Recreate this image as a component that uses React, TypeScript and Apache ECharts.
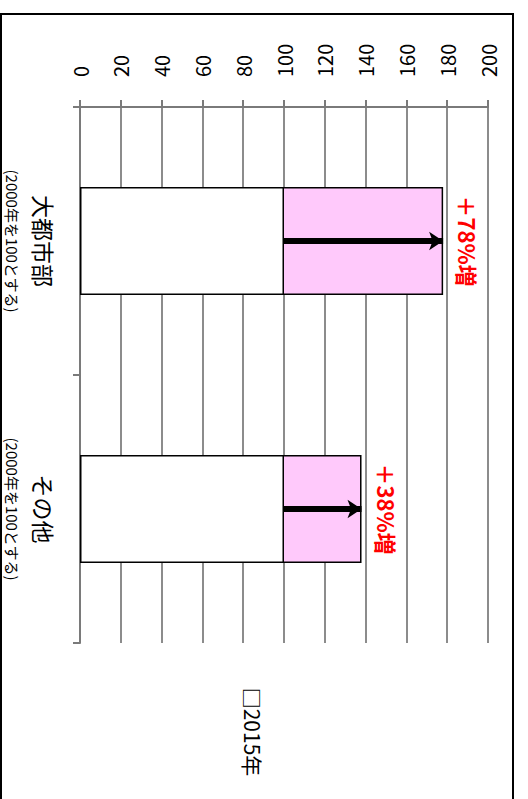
import React, { useEffect, useRef } from "react";
import * as echarts from "echarts";

const categories = ["大都市部", "その他"];
const baseNote = "(2000年を100とする)";
const values2015 = [178, 138];
const baseValues = [100, 100];
const changeLabels = ["＋78%増", "＋38%増"];
const legendLabel = "□2015年";
const axisMin = 0;
const axisMax = 200;
const axisStep = 20;

const FONT = "'Noto Sans CJK JP', 'Noto Sans', sans-serif";

export default function App() {
  const ref = useRef<HTMLDivElement>(null);
  useEffect(() => {
    if (!ref.current) return;
    const chart = echarts.init(ref.current, undefined, { renderer: "svg" });
    const arrowData = categories.map((c, i) => [
      { coord: [baseValues[i], c] },
      { coord: [values2015[i], c] },
    ]);
    chart.setOption({
      animation: false,
      backgroundColor: "#ffffff",
      textStyle: { fontFamily: FONT },
      grid: { left: 80, top: 107, width: 408, height: 536, containLabel: false },
      xAxis: {
        type: "value",
        position: "top",
        min: axisMin,
        max: axisMax,
        interval: axisStep,
        axisLine: { show: true, lineStyle: { color: "#7a7a7a", width: 2 } },
        axisTick: { show: true, length: 7, lineStyle: { color: "#7a7a7a", width: 2 } },
        axisLabel: {
          rotate: -90,
          margin: 30,
          align: "left",
          verticalAlign: "middle",
          fontSize: 20,
          color: "#000",
          fontFamily: FONT,
        },
        splitLine: { show: true, lineStyle: { color: "#8c8c8c", width: 2 } },
      },
      yAxis: {
        type: "category",
        inverse: true,
        data: categories,
        axisLine: { show: true, lineStyle: { color: "#7a7a7a", width: 2 } },
        axisTick: { show: true, length: 7, lineStyle: { color: "#7a7a7a", width: 2 } },
        axisLabel: {
          rotate: -90,
          margin: 24,
          align: "center",
          verticalAlign: "top",
          formatter: (v: string) => `{a|${v}}\n{b|${baseNote}}`,
          rich: {
            a: { fontSize: 23, color: "#000", fontFamily: FONT, lineHeight: 24 },
            b: { fontSize: 15, color: "#000", fontFamily: FONT, lineHeight: 40 },
          },
        },
        splitLine: { show: false },
      },
      series: [
        {
          name: "2015年",
          type: "bar",
          data: values2015,
          barWidth: 108,
          barGap: "-100%",
          itemStyle: { color: "#ffc9fb", borderColor: "#000", borderWidth: 1.5 },
          label: {
            show: true,
            position: "right",
            rotate: -90,
            align: "center",
            verticalAlign: "bottom",
            distance: 14,
            color: "#ff0000",
            fontWeight: "bold",
            fontSize: 22,
            fontFamily: FONT,
            formatter: (p: any) => changeLabels[p.dataIndex],
          },
          markLine: {
            silent: true,
            symbol: ["none", "arrow"],
            symbolSize: [14, 14],
            label: { show: false },
            lineStyle: { color: "#000", width: 6, type: "solid" },
            data: arrowData,
          },
          z: 2,
        },
        {
          name: "2000年",
          type: "bar",
          data: baseValues,
          barWidth: 108,
          barGap: "-100%",
          itemStyle: { color: "#ffffff", borderColor: "#000", borderWidth: 1.5 },
          z: 3,
        },
      ],
      graphic: [
        {
          type: "rect",
          shape: { x: 1, y: 14, width: 512, height: 800 },
          style: { fill: "none", stroke: "#000", lineWidth: 2 },
          silent: true,
          z: 100,
        },
        {
          type: "text",
          x: 253,
          y: 732,
          rotation: -Math.PI / 2,
          style: {
            text: legendLabel,
            fontSize: 21,
            fontFamily: FONT,
            fill: "#000",
            align: "center",
            verticalAlign: "middle",
          },
        },
      ],
    });
    return () => chart.dispose();
  }, []);
  return (
    <div
      ref={ref}
      style={{ position: "fixed", left: 0, top: 0, width: 528, height: 799 }}
    />
  );
}
